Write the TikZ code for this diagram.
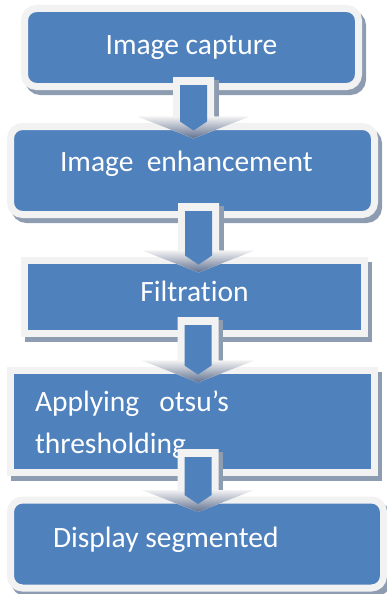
\documentclass[tikz,border=0pt]{standalone}
\usepackage{fontspec}
\setmainfont{Carlito}[Ligatures=NoCommon]
\usetikzlibrary{calc}
\usetikzlibrary{shadows}

\definecolor{boxblue}{HTML}{4F81BD}
\definecolor{boxrim}{HTML}{F2F2F2}
\definecolor{rimshadow}{HTML}{8E9CB2}
\definecolor{headdark}{HTML}{5F7090}

\tikzset{
  stage/.style={fill=boxblue, draw=boxrim, line width=7pt, inner sep=0pt, outer sep=0pt,
    text=white, font=\fontsize{29.5}{42}\selectfont,
    general shadow={fill=rimshadow, draw=rimshadow, line width=7pt,
      shadow xshift=4pt, shadow yshift=-5pt}},
  roundstage/.style={stage, rounded corners=12pt},
}

% block arrow from one stage down to the next
\newcommand{\flowarrow}[4]{%
  \coordinate (#1top) at ($(#1.south)+(#3pt,#4pt)$);
  \coordinate (#1tip) at ($(#2.north)+(#3pt,-12pt)$);
  \fill[rimshadow] let \p1=(#1top), \p2=(#1tip) in
    (\x1+20pt,\y1-3pt) rectangle (\x1+25pt,\y2+22pt);
  \fill[boxrim] let \p1=(#1top), \p2=(#1tip) in
    (\x1-20.5pt,\y1) -- (\x1+20.5pt,\y1) -- (\x1+20.5pt,\y2+22pt) -- (\x1+56pt,\y2+22pt)
    -- (\x1,\y2) -- (\x1-56pt,\y2+22pt) -- (\x1-20.5pt,\y2+22pt) -- cycle;
  \shade[top color=boxrim, bottom color=headdark] let \p1=(#1top), \p2=(#1tip) in
    (\x1-56pt,\y2+22pt) -- (\x1+56pt,\y2+22pt) -- (\x1,\y2) -- cycle;
  \fill[boxblue] let \p1=(#1top), \p2=(#1tip) in
    (\x1-13.5pt,\y1-8pt) -- (\x1+13.5pt,\y1-8pt) -- (\x1+13.5pt,\y2+17pt)
    -- (\x1,\y2+8pt) -- (\x1-13.5pt,\y2+17pt) -- cycle;
}

\begin{document}
\begin{tikzpicture}[x=1pt, y=-1pt]
  \useasboundingbox (0,0) rectangle (387,594);

  \node[roundstage, minimum width=334pt, minimum height=78pt,
    text height=20pt, text depth=5pt] (cap) at (191.5,47.5) {Image capture};
  \node[roundstage, minimum width=364pt, minimum height=88pt, inner xsep=49.5pt,
    text width=265pt, align=left, text height=19pt, text depth=16.5pt]
    (enh) at (192.5,170.5) {\spaceskip=0pt Image\ \ enhancement};
  \node[stage, minimum width=340pt, minimum height=73pt,
    text height=19pt, text depth=9.6pt] (filt) at (194.5,297) {Filtration};
  \node[stage, minimum width=364pt, minimum height=102pt, inner xsep=24.5pt,
    text width=315pt, align=left, text height=27pt]
    (otsu) at (192.5,421.5) {\spaceskip=0pt Applying\ \ \ otsu’s\\thresholding};
  \node[roundstage, minimum width=373pt, minimum height=88pt, inner xsep=42.5pt,
    text width=288pt, align=left, text height=19pt, text depth=12.4pt]
    (disp) at (197,544) {\spaceskip=0pt Display segmented};

  \flowarrow{cap}{enh}{2}{9.5}
  \flowarrow{enh}{filt}{6}{11.5}
  \flowarrow{filt}{otsu}{3.5}{16.5}
  \flowarrow{otsu}{disp}{5.5}{23.5}
\end{tikzpicture}
\end{document}
